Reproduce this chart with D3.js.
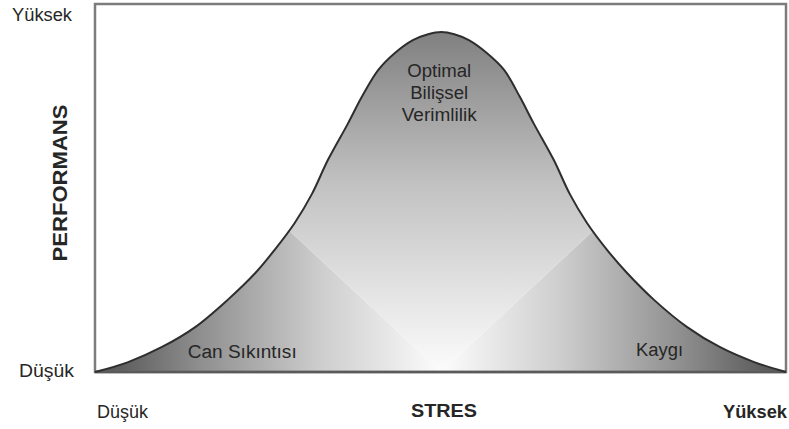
<!DOCTYPE html>
<html>
<head>
<meta charset="utf-8">
<script src="https://cdn.jsdelivr.net/npm/d3@7"></script>
<style>
  body { margin: 0; background: #fff; }
  text { font-family: "Liberation Sans Narrow", "Arial Narrow", "Liberation Sans", Arial, sans-serif; fill: #262626; }
</style>
</head>
<body>
<div id="vis"></div>
<script>
// stress level (0-100) vs performance (0-100)
const stress = [0, 4.8, 9.7, 14.5, 19.2, 23.2, 26.0, 28.9, 31.4, 33.7, 36.6, 38.6, 41.0, 43.4, 46.0, 48.2, 50.1,
    52.0, 54.1, 56.7, 59.2, 61.5, 63.5, 66.4, 68.7, 71.2, 74.1, 77.0, 80.9, 85.7, 90.4, 95.4, 100];
const performance = [0, 2.7, 6.8, 12.2, 19.6, 26.9, 33.2, 40.5, 48.4, 57.6, 67.5, 74.7, 82.1, 86.7, 90.2, 91.8, 92.4,
    91.8, 90.2, 86.7, 82.1, 74.7, 67.5, 57.6, 48.4, 40.5, 33.2, 26.9, 19.6, 12.2, 6.8, 2.7, 0];

const yTickLabels = ["Düşük", "Yüksek"];
const xTickLabels = ["Düşük", "Yüksek"];
const regionLabels = ["Can Sıkıntısı", "Kaygı"];
const regionX = [21.3, 81.7];
const peakLabel = ["Optimal", "Bilişsel", "Verimlilik"];

const width = 789, height = 429;
const svg = d3.select("#vis").append("svg")
    .attr("width", width)
    .attr("height", height);

const x = d3.scaleLinear().domain([0, 100]).range([95, 786]);
const y = d3.scaleLinear().domain([0, 100]).range([372, 4]);

const data = stress.map((s, i) => ({ s: s, p: performance[i] }));

const curve = d3.curveCatmullRom.alpha(0.5);
const area = d3.area()
    .x(d => x(d.s))
    .y0(y(0))
    .y1(d => y(d.p))
    .curve(curve);
const line = d3.line()
    .x(d => x(d.s))
    .y(d => y(d.p))
    .curve(curve);

const defs = svg.append("defs");
defs.append("clipPath").attr("id", "bell")
    .append("path").attr("d", area(data));

const cx = x(50.1), by = y(0), ty = y(100);
const k = 0.93; // slope of the light "V"
const reach = (by - ty) / k;

function grad(id, x1, y1, x2, y2, stops) {
    const g = defs.append("linearGradient").attr("id", id)
        .attr("gradientUnits", "userSpaceOnUse")
        .attr("x1", x1).attr("y1", y1).attr("x2", x2).attr("y2", y2);
    stops.forEach(s => g.append("stop").attr("offset", s[0]).attr("stop-color", s[1]));
}
grad("gLeft", x(0), 0, cx, 0, [[0, "#4f4f4f"], [0.3, "#8e8e8e"], [0.65, "#cdcdcd"], [1, "#fcfcfc"]]);
grad("gRight", x(100), 0, cx, 0, [[0, "#4f4f4f"], [0.3, "#8e8e8e"], [0.65, "#cdcdcd"], [1, "#fcfcfc"]]);
grad("gTop", 0, y(92.4), 0, by, [[0, "#808080"], [0.45, "#c2c2c2"], [1, "#fcfcfc"]]);

const fill = svg.append("g").attr("clip-path", "url(#bell)");
fill.append("polygon").attr("fill", "url(#gLeft)")
    .attr("points", [[x(0) - 5, by], [cx, by], [cx - reach, ty], [x(0) - 5, ty]].join(" "));
fill.append("polygon").attr("fill", "url(#gRight)")
    .attr("points", [[x(100) + 5, by], [cx, by], [cx + reach, ty], [x(100) + 5, ty]].join(" "));
fill.append("polygon").attr("fill", "url(#gTop)")
    .attr("points", [[cx, by], [cx - reach, ty], [cx + reach, ty]].join(" "));

// frame
svg.append("rect")
    .attr("x", x(0)).attr("y", y(100))
    .attr("width", x(100) - x(0)).attr("height", y(0) - y(100))
    .attr("fill", "none")
    .attr("stroke", "#7c7c7c")
    .attr("stroke-width", 2.5);
svg.append("line")
    .attr("x1", x(0)).attr("x2", x(100))
    .attr("y1", y(0)).attr("y2", y(0))
    .attr("stroke", "#5a5a5a")
    .attr("stroke-width", 2.5);

svg.append("path")
    .attr("d", line(data))
    .attr("fill", "none")
    .attr("stroke", "#2e2e2e")
    .attr("stroke-width", 2);

// axis labels
function label(txt, px, py, size, len, opts) {
    opts = opts || {};
    const t = svg.append("text")
        .attr("x", px).attr("y", py)
        .attr("font-size", size)
        .attr("text-anchor", opts.anchor || "start")
        .attr("font-weight", opts.bold ? "bold" : "normal")
        .attr("textLength", len)
        .attr("lengthAdjust", "spacingAndGlyphs")
        .text(txt);
    if (opts.rotate) t.attr("transform", `rotate(-90,${px},${py})`);
    return t;
}

label(yTickLabels[1], 12, 21, 18, 60);
label(yTickLabels[0], 19, 377, 18, 55);
label(xTickLabels[0], 97, 418, 18, 51);
label(xTickLabels[1], 723, 418, 18, 64, { bold: true });
label("STRES", 444, 417, 19, 66, { bold: true, anchor: "middle" });
label("PERFORMANS", 67, 183, 21, 157, { bold: true, anchor: "middle", rotate: true });

label(regionLabels[0], x(regionX[0]), 358, 18, 109, { anchor: "middle" });
label(regionLabels[1], x(regionX[1]), 356, 18, 47, { anchor: "middle" });

const peakWidths = [64, 58, 75];
peakLabel.forEach((t, i) => {
    label(t, cx - 2, 77 + i * 22, 18, peakWidths[i], { anchor: "middle" });
});
</script>
</body>
</html>
